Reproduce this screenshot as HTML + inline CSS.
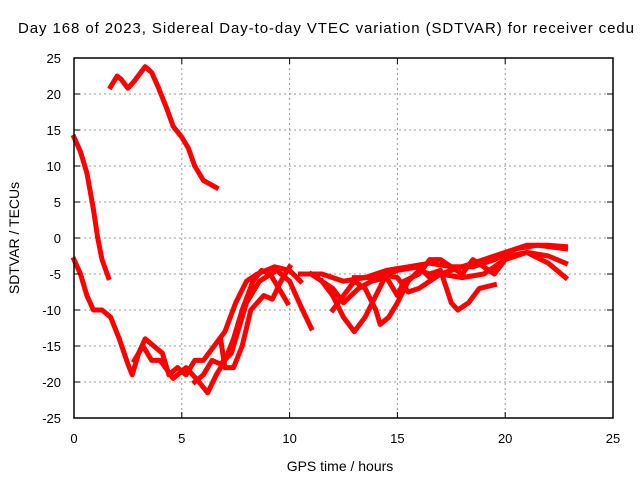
<!DOCTYPE html>
<html><head><meta charset="utf-8"><style>
body{margin:0;background:#fff}
svg text{font-family:"Liberation Sans",sans-serif;fill:#000}
</style></head><body>
<svg id="c" width="640" height="480" xmlns="http://www.w3.org/2000/svg">
<text x="18" y="33" font-size="15" textLength="616" lengthAdjust="spacing">Day 168 of 2023, Sidereal Day-to-day VTEC variation (SDTVAR) for receiver cedu</text>
<g id="grid"></g>
<g id="series"></g>
<rect x="74" y="58" width="539" height="360" fill="none" stroke="#000" stroke-width="1.5"/>
<g id="ticks"></g>
<text x="340" y="471" font-size="14" text-anchor="middle">GPS time / hours</text>
<text transform="translate(19,238) rotate(-90)" font-size="14" text-anchor="middle">SDTVAR / TECUs</text>
</svg>
<script>
const xTicks=[0,5,10,15,20,25];
const yTicks=[25,20,15,10,5,0,-5,-10,-15,-20,-25];
const sA=[[1.7,21],[2.0,22.5],[2.2,22],[2.5,20.8],[2.8,21.8],[3.3,23.8],[3.6,23],[3.9,21],[4.3,18],[4.6,15.5],[5.0,14],[5.3,12.5],[5.6,10],[6.0,8],[6.6,7]];
const sB=[[0,14],[0.3,12],[0.6,9],[0.9,4],[1.1,0],[1.3,-3],[1.6,-5.5]];
const sC=[[0,-3],[0.3,-5],[0.6,-8],[0.9,-10],[1.3,-10],[1.7,-11],[2.1,-14],[2.5,-17.5],[2.7,-19],[3.0,-16],[3.3,-14],[3.7,-15],[4.1,-16],[4.4,-19],[4.8,-18],[5.2,-19],[5.6,-17],[6.0,-17],[6.5,-15],[7.0,-13],[7.5,-9],[8.0,-6],[8.5,-5],[9.3,-4],[10,-4.5],[10.5,-6]];
const sD=[[2.8,-17],[3.2,-15],[3.6,-17],[4.0,-17],[4.6,-19.5],[5.2,-18],[5.8,-20],[6.2,-21.5],[6.6,-19],[7.0,-17],[7.4,-14],[7.8,-10],[8.3,-6],[8.7,-4.5],[9.1,-5],[9.5,-7],[9.9,-9]];
const sE=[[5.6,-20],[6.0,-19],[6.4,-17],[6.8,-17.5],[7.3,-16],[7.7,-12],[8.0,-9],[8.6,-6],[9.4,-4.5],[10.0,-6],[10.6,-10],[11,-12.5]];
const sF=[[6.8,-14],[7.0,-18],[7.4,-18],[7.8,-15],[8.2,-10],[8.8,-8],[9.2,-8.5],[9.6,-6],[10.0,-4]];
const sH=[[10.5,-5],[11.5,-5],[12.5,-6],[13.5,-5.5],[14.5,-4.5],[15.5,-4],[16.5,-3.5],[17.5,-4],[18.5,-4],[19.5,-3],[20.5,-1.5],[21.5,-1],[22.8,-1.5]];
const sI=[[11.5,-6],[12,-8],[12.5,-11],[13,-13],[13.5,-11],[14,-8],[14.5,-5],[15,-4.5],[16,-4],[16.5,-5.5],[17,-5],[18,-5.5],[19,-5],[19.5,-4],[20.2,-2.5],[21,-2],[22,-3.5],[22.8,-5.5]];
const sJ=[[11,-5],[12,-7],[12.5,-9],[13.2,-7],[13.8,-6],[14.5,-5.5],[15,-8],[15.3,-6],[16,-5],[16.5,-3],[17,-3],[17.5,-4],[18,-5],[18.5,-3],[19,-4],[19.5,-5],[20,-3],[21,-2],[22,-2.5],[22.8,-3.5]];
const sK=[[12,-10],[12.5,-8],[13,-6],[13.5,-7],[14,-10],[14.2,-12],[14.6,-11],[15,-9],[15.5,-6],[16,-4.5],[16.5,-5],[17,-4.5],[17.5,-9],[17.8,-10],[18.3,-9],[18.8,-7],[19.5,-6.5]];
const sL=[[13,-5.5],[14,-5.5],[14.5,-5.2],[15,-5.5],[15.5,-7.5],[16,-7],[17,-5],[18,-4],[19,-3],[20,-2],[21,-1],[22,-1],[22.8,-1.2]];
const seriesList=[sA,sB,sC,sD,sE,sF,sH,sI,sJ,sK,sL];
const NS="http://www.w3.org/2000/svg";
const X=t=>74+t*539/25, Y=v=>238-v*7.2;
const grid=document.getElementById('grid'),ticks=document.getElementById('ticks'),ser=document.getElementById('series');
function mk(tag,attrs,parent){const e=document.createElementNS(NS,tag);for(const k in attrs)e.setAttribute(k,attrs[k]);parent.appendChild(e);return e;}
xTicks.forEach(t=>{
 if(t>0&&t<25){const g=mk('line',{x1:X(t),x2:X(t),y1:58,y2:418,stroke:'#999','stroke-dasharray':'2,3'},grid);
 
 }
 mk('line',{x1:X(t),x2:X(t),y1:418,y2:412,stroke:'#000'},ticks);
 mk('line',{x1:X(t),x2:X(t),y1:58,y2:64,stroke:'#000'},ticks);
 const l=mk('text',{x:X(t),y:443,'font-size':13,'text-anchor':'middle'},ticks);l.textContent=t;
 
 
});
yTicks.forEach(v=>{
 if(v>-25&&v<25){const g=mk('line',{x1:74,x2:613,y1:Y(v),y2:Y(v),stroke:'#999','stroke-dasharray':'2,3'},grid);
 
 }
 mk('line',{x1:74,x2:80,y1:Y(v),y2:Y(v),stroke:'#000'},ticks);
 mk('line',{x1:607,x2:613,y1:Y(v),y2:Y(v),stroke:'#000'},ticks);
 const l=mk('text',{x:61,y:Y(v)+5,'font-size':13,'text-anchor':'end'},ticks);l.textContent=v;
 
 
});
seriesList.forEach(s=>{
 const p=mk('polyline',{points:s.map(d=>X(d[0])+','+Y(d[1])).join(' '),fill:'none',stroke:'#f00','stroke-width':5,'stroke-linejoin':'round','stroke-linecap':'square'},ser);
 
 
});
</script>
</body></html>
